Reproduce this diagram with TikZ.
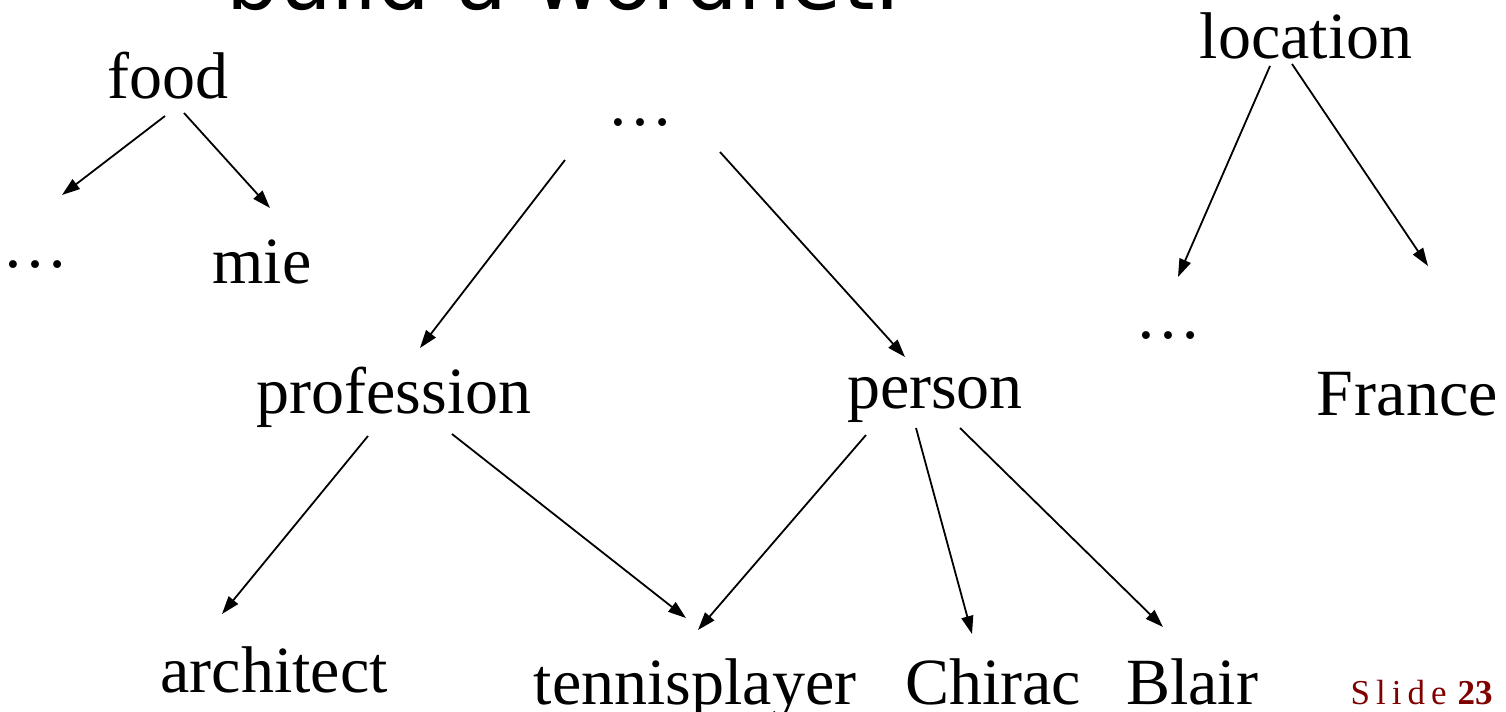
\documentclass[tikz,border=0pt]{standalone}
\usepackage{fontspec}
\setmainfont{Liberation Serif}
\newfontfamily\headfont{DejaVu Sans}
\usetikzlibrary{arrows.meta}
\definecolor{slidered}{RGB}{128,0,0}

\begin{document}
\begin{tikzpicture}[
    x=0.5pt, y=-0.5pt,
    word/.style={anchor=base, inner sep=0pt, font=\fontsize{33}{40}\selectfont},
    arr/.style={-{Triangle[length=9pt, width=6pt]}, line width=0.9pt},
]
\useasboundingbox (0,0) rectangle (1506,712);

% title, cut off at the top of the slide
\node[anchor=base west, inner sep=0pt, font=\headfont\fontsize{41.5}{48}\selectfont] (title) at (226,10) {build a wordnet.};

% top level
\node[word] (food)     at (168,98)  {food};
\node[word] (dotstop)  at (640,125) {\dots};
\node[word] (location) at (1306,58) {location};

% second level
\node[word] (dotsleft)   at (36,267)   {\dots};
\node[word] (mie)        at (262,283)  {mie};
\node[word] (profession) at (394,413)  {profession};
\node[word] (person)     at (935,408)  {person};
\node[word] (dotsright)  at (1168,338) {\dots};
\node[word] (france)     at (1407,415) {F\kern1pt rance};

% leaves
\node[word] (architect)    at (274,692)  {architect};
\node[word] (tennisplayer) at (695,704)  {tennisplayer};
\node[word] (chirac)       at (993,704)  {Chirac};
\node[word] (blair)        at (1192,704) {Blair};

\node[anchor=base east, inner sep=0pt, text=slidered, font=\fontsize{17.5}{21}\selectfont] (slidenum) at (1493,704)
    {S\kern3pt l\kern3pt i\kern3pt d\kern3pt e\kern5.5pt\textbf{23}};

\draw[arr] ([shift={(-3,18)}]food.base)   -- ([shift={(26,-72)}]dotsleft.base);
\draw[arr] ([shift={(16,15)}]food.base)   -- ([shift={(8,-75)}]mie.base);
\draw[arr] ([shift={(-75,35)}]dotstop.base) -- ([shift={(26,-65)}]profession.base);
\draw[arr] ([shift={(80,27)}]dotstop.base)  -- ([shift={(-30,-51)}]person.base);
\draw[arr] ([shift={(-36,8)}]location.base) -- ([shift={(10,-61)}]dotsright.base);
\draw[arr] ([shift={(-14,6)}]location.base) -- ([shift={(21,-149)}]france.base);
\draw[arr] ([shift={(-26,23)}]profession.base) -- ([shift={(-52,-78)}]architect.base);
\draw[arr] ([shift={(58,21)}]profession.base)  -- ([shift={(-9,-86)}]tennisplayer.base);
\draw[arr] ([shift={(-69,27)}]person.base) -- ([shift={(3,-74)}]tennisplayer.base);
\draw[arr] ([shift={(-19,20)}]person.base) -- ([shift={(-21,-70)}]chirac.base);
\draw[arr] ([shift={(25,20)}]person.base)  -- ([shift={(-29,-77)}]blair.base);
\end{tikzpicture}
\end{document}
